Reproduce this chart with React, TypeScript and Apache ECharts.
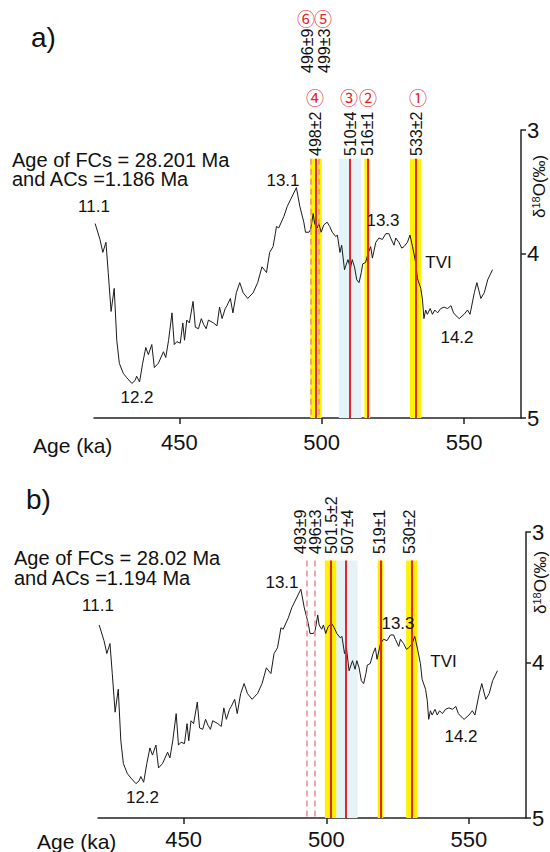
import React, { useEffect, useRef } from 'react';
import * as echarts from 'echarts';

// δ18O record (same curve in both panels)
const AGE = [420.4, 422.1, 423.1, 424.2, 425.0, 426.0, 427.1, 428.0, 428.9, 430.3,
  431.5, 433.3, 434.4, 435.0, 436.0, 437.1, 438.2, 439.1, 440.3, 441.2,
  442.6, 444.4, 445.2, 446.2, 447.4, 448.2, 449.1, 450.3, 451.2, 451.8,
  452.6, 453.5, 454.8, 455.6, 456.7, 457.7, 458.5, 459.4, 460.2, 462.0,
  463.2, 464.1, 465.0, 466.1, 466.7, 467.9, 468.8, 470.0, 471.2, 472.4,
  474.0, 475.9, 477.5, 479.0, 480.6, 481.7, 482.9, 483.7, 484.1, 484.9,
  486.7, 487.9, 491.1, 492.3, 493.7, 494.3, 495.5, 496.1, 497.0, 497.5,
  498.4, 499.0, 499.8, 500.7, 501.9, 502.8, 503.7, 504.9, 505.5, 506.4,
  507.0, 508.0, 509.2, 510.1, 510.7, 511.5, 512.3, 513.1, 513.9, 514.4,
  515.4, 516.4, 517.2, 517.8, 519.0, 520.1, 521.3, 522.5, 523.6, 524.2,
  525.4, 526.0, 527.1, 528.1, 528.9, 530.1, 531.0, 531.9, 533.0, 533.6,
  534.8, 535.4, 535.9, 536.5, 537.1, 538.1, 538.9, 539.7, 540.7, 541.8,
  543.0, 544.2, 545.4, 546.3, 547.7, 548.3, 550.0, 551.2, 552.1, 553.6,
  554.5, 555.9, 557.1, 558.3, 560.0];
const D18O = [3.65, 3.76, 3.85, 3.78, 3.99, 4.26, 4.10, 4.46, 4.62, 4.69,
  4.72, 4.76, 4.74, 4.71, 4.75, 4.62, 4.51, 4.56, 4.49, 4.65,
  4.62, 4.54, 4.58, 4.46, 4.27, 4.49, 4.47, 4.48, 4.34, 4.46,
  4.32, 4.34, 4.19, 4.37, 4.38, 4.31, 4.35, 4.38, 4.32, 4.34,
  4.36, 4.23, 4.31, 4.24, 4.22, 4.17, 4.27, 4.13, 4.06, 4.13,
  4.17, 4.13, 4.06, 3.95, 3.99, 3.85, 3.81, 3.72, 3.67, 3.68,
  3.60, 3.53, 3.40, 3.53, 3.64, 3.71, 3.71, 3.69, 3.58, 3.65,
  3.68, 3.65, 3.71, 3.66, 3.64, 3.67, 3.71, 3.74, 3.73, 3.85,
  3.80, 3.97, 3.90, 3.96, 3.90, 3.95, 4.04, 4.06, 3.99, 3.93,
  3.92, 3.85, 3.81, 3.89, 3.78, 3.75, 3.76, 3.72, 3.72, 3.75,
  3.80, 3.75, 3.78, 3.82, 3.81, 3.78, 3.73, 3.81, 3.92, 4.03,
  4.10, 4.18, 4.31, 4.25, 4.28, 4.24, 4.28, 4.25, 4.27, 4.24,
  4.23, 4.24, 4.22, 4.27, 4.30, 4.31, 4.28, 4.25, 4.28, 4.13,
  4.06, 4.17, 4.13, 4.04, 3.97];

const X_TICKS = [450, 500, 550];
const Y_TICK_LABELS = ['3', '4', '5'];

// panel a ages (ka) and errors
const A_AGES = [533, 516, 510, 498, 499, 496];
const A_ERRS = [2, 1, 4, 2, 3, 9];
const A_KINDS = ['yellow', 'yellow', 'blue', 'yellow', 'dashed', 'dashed'];
const A_MARKS = ['①', '②', '③', '④', '⑤', '⑥'];
// panel b ages (ka) and errors
const B_AGES = [530, 519, 507, 501.5, 496, 493];
const B_ERRS = [2, 1, 4, 2, 3, 9];
const B_KINDS = ['yellow', 'yellow', 'blue', 'yellow', 'dashed', 'dashed'];

const A_NOTE = ['Age of FCs = 28.201 Ma', 'and ACs =1.186 Ma'];
const B_NOTE = ['Age of FCs = 28.02 Ma', 'and ACs =1.194 Ma'];
const STAGES = ['11.1', '12.2', '13.1', '13.3', 'TVI', '14.2'];

const FONT = '"Liberation Sans", Arial, Helvetica, sans-serif';
const CJK = '"Noto Sans CJK SC", "Noto Sans", sans-serif';
const YELLOW = '#fff200';
const BLUE = '#e3f3f8';
const RED = '#e3262c';
const PINK = '#f2888a';
const BAND_TOP = 3.2;

const PANELS = [
  {
    grid: { left: 94, top: 130, width: 427, height: 288 },
    yTicks: [3, 3.861, 5],
    xLabelMargin: 13,
    ages: A_AGES, errs: A_ERRS, kinds: A_KINDS,
  },
  {
    grid: { left: 98, top: 532, width: 428, height: 286 },
    yTicks: [3, 3.916, 5],
    xLabelMargin: 10,
    ages: B_AGES, errs: B_ERRS, kinds: B_KINDS,
  },
];

function fmtAge(a: number, e: number) {
  return `${a}±${e}`;
}

function txt(text: string, x: number, y: number, size: number, extra: any = {}) {
  return {
    type: 'text', x, y, z: 100, silent: true,
    style: { text, fontSize: size, fontFamily: FONT, fill: '#111', align: 'center', verticalAlign: 'middle', ...extra },
  };
}

function vtxt(text: string, x: number, yBottom: number, size: number, extra: any = {}) {
  return {
    type: 'text', x, y: yBottom, z: 100, rotation: Math.PI / 2, silent: true,
    style: { text, fontSize: size, fontFamily: FONT, fill: '#111', align: 'left', verticalAlign: 'middle', ...extra },
  };
}

function buildOption() {
  const curve = AGE.map((a, i) => [a, D18O[i]]);
  const grids: any[] = [];
  const xAxes: any[] = [];
  const yAxes: any[] = [];
  const series: any[] = [];

  PANELS.forEach((p, gi) => {
    grids.push({ ...p.grid, containLabel: false });
    xAxes.push({
      type: 'value', gridIndex: gi, min: 420, max: 570, position: 'bottom',
      axisLine: { show: true, onZero: false, lineStyle: { color: '#222', width: 1.5 } },
      axisTick: { show: true, customValues: X_TICKS, length: 6, lineStyle: { color: '#222', width: 1.5 } },
      axisLabel: {
        show: true, customValues: X_TICKS, fontSize: 22, fontFamily: FONT, color: '#111', margin: p.xLabelMargin,
      },
      splitLine: { show: false },
    });
    yAxes.push({
      type: 'value', gridIndex: gi, min: 3, max: 5, inverse: true, position: 'right',
      axisLine: { show: true, onZero: false, lineStyle: { color: '#222', width: 1.5 } },
      axisTick: { show: true, customValues: p.yTicks, length: 5, lineStyle: { color: '#222', width: 1.5 } },
      axisLabel: {
        show: true, customValues: p.yTicks, fontSize: 22, fontFamily: FONT, color: '#111', margin: 6,
        formatter: (v: number) => {
          let best = 0;
          p.yTicks.forEach((t, k) => { if (Math.abs(t - v) < Math.abs(p.yTicks[best] - v)) best = k; });
          return Y_TICK_LABELS[best];
        },
      },
      splitLine: { show: false },
    });

    // bands (blue first, yellow on top)
    const areas: any[] = [];
    ['blue', 'yellow'].forEach((kind) => {
      p.ages.forEach((a, k) => {
        if (p.kinds[k] !== kind) return;
        areas.push([
          { xAxis: a - p.errs[k], yAxis: BAND_TOP, itemStyle: { color: kind === 'blue' ? BLUE : YELLOW, opacity: 1 } },
          { xAxis: a + p.errs[k], yAxis: 5 },
        ]);
      });
    });
    series.push({
      type: 'line', xAxisIndex: gi, yAxisIndex: gi, data: [], z: 1, silent: true,
      markArea: { silent: true, data: areas, label: { show: false } },
    });

    series.push({
      type: 'line', xAxisIndex: gi, yAxisIndex: gi, data: curve, z: 3,
      showSymbol: false, symbol: 'none', silent: true,
      lineStyle: { color: '#1a1a1a', width: 1 },
    });

    const lines = p.ages.map((a, k) => {
      const dashed = p.kinds[k] === 'dashed';
      return [
        {
          coord: [a, BAND_TOP],
          lineStyle: dashed
            ? { color: PINK, width: 1.5, type: [6, 4] }
            : { color: RED, width: 2, type: 'solid' },
        },
        { coord: [a, 5] },
      ];
    });
    series.push({
      type: 'line', xAxisIndex: gi, yAxisIndex: gi, data: [], z: 4, silent: true,
      markLine: { silent: true, symbol: ['none', 'none'], label: { show: false }, data: lines },
    });
  });

  const g: any[] = [];
  // panel letters
  g.push(txt('a)', 31, 37, 28, { align: 'left' }));
  g.push(txt('b)', 26, 499, 28, { align: 'left' }));
  // notes
  g.push(txt(A_NOTE.join('\n'), 12, 169.5, 20, { align: 'left', lineHeight: 19.5 }));
  g.push(txt(B_NOTE.join('\n'), 14, 568, 20, { align: 'left', lineHeight: 19.5 }));
  // Age (ka)
  g.push(txt('Age (ka)', 33, 445, 21, { align: 'left' }));
  g.push(txt('Age (ka)', 37, 841, 21, { align: 'left' }));
  // stage labels
  const aStagePos = [[94, 206], [137, 397], [283, 180.5], [383, 220.5], [438.5, 262.5], [457, 337.5]];
  const bStagePos = [[98, 605.5], [142.5, 797.5], [282, 582], [398, 623.5], [443.5, 661], [461, 736]];
  STAGES.forEach((s, k) => {
    g.push(txt(s, aStagePos[k][0], aStagePos[k][1], 17));
    g.push(txt(s, bStagePos[k][0], bStagePos[k][1], 17));
  });
  // δ18O axis names
  const yName = (x: number, yb: number) => ({
    type: 'text', x, y: yb, z: 100, rotation: Math.PI / 2, silent: true,
    style: {
      text: '{n|δ}{s|18}{n|O(‰)}', align: 'left', verticalAlign: 'middle',
      rich: {
        n: { fontSize: 17, fontFamily: FONT, fill: '#111' },
        s: { fontSize: 11, fontFamily: FONT, fill: '#111', verticalAlign: 'top' },
      },
    },
  });
  g.push(yName(539, 218));
  g.push(yName(540, 614));

  // age labels panel a
  const aLabelX = [416, 367, 350, 315, 324, 307];
  const aLabelBottom = [156, 156, 156, 156, 73, 73];
  const aMarkPos = [[418, 97], [368, 97], [349, 97], [315, 97], [323, 18], [306, 18]];
  A_AGES.forEach((a, k) => {
    g.push(vtxt(fmtAge(a, A_ERRS[k]), aLabelX[k], aLabelBottom[k], 16));
    g.push(txt(A_MARKS[k], aMarkPos[k][0], aMarkPos[k][1], 18, { fill: RED, fontFamily: CJK }));
  });
  // age labels panel b
  const bLabelX = [409, 379, 347, 331, 315, 300];
  B_AGES.forEach((a, k) => {
    g.push(vtxt(fmtAge(a, B_ERRS[k]), bLabelX[k], 554, 16));
  });

  return {
    animation: false,
    backgroundColor: '#ffffff',
    grid: grids,
    xAxis: xAxes,
    yAxis: yAxes,
    series,
    graphic: { elements: g },
  };
}

export default function App() {
  const ref = useRef<HTMLDivElement>(null);
  useEffect(() => {
    if (!ref.current) return;
    const chart = echarts.init(ref.current, null, { renderer: 'svg' });
    chart.setOption(buildOption() as any);
    return () => chart.dispose();
  }, []);
  return (
    <div
      ref={ref}
      style={{ position: 'absolute', left: 0, top: 0, width: 550, height: 852, background: '#fff' }}
    />
  );
}
